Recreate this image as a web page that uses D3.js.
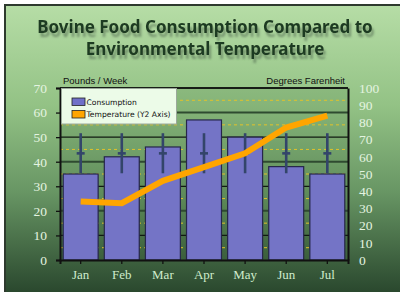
<!DOCTYPE html>
<html>
<head>
<meta charset="utf-8">
<script src="https://cdn.jsdelivr.net/npm/d3@7"></script>
<style>
  body { margin: 0; background: #fff; }
  svg { display: block; }
</style>
</head>
<body>
<div id="chart"></div>
<script>
// data
var months = ["Jan", "Feb", "Mar", "Apr", "May", "Jun", "Jul"];
var consumption = [35, 42, 46, 57, 50, 38, 35];
var temperature = [34, 33, 46, 54, 62, 77, 84];
var errLow = [35.3, 35.3, 35.3, 35.3, 35.3, 35.3, 35.3];
var errMid = [43.4, 43.4, 43.4, 43.4, 43.4, 43.4, 43.4];
var errHigh = [51.6, 51.6, 51.6, 51.6, 51.6, 51.6, 51.6];
var leftTicks = [0, 10, 20, 30, 40, 50, 60, 70];
var rightTicks = [0, 10, 20, 30, 40, 50, 60, 70, 80, 90, 100];
var minorTicks = [5, 15, 25, 35, 45, 55, 65];

var W = 400, H = 292;
var margin = {top: 88, right: 52, bottom: 32, left: 60},
    plotW = W - margin.left - margin.right,
    plotH = H - margin.top - margin.bottom;

var svg = d3.select("#chart").append("svg")
    .attr("width", W)
    .attr("height", H);

var defs = svg.append("defs");
var grad = defs.append("linearGradient")
    .attr("id", "bg")
    .attr("x1", 0).attr("y1", 0).attr("x2", 0).attr("y2", 1);
[[0, "#b6dda6"], [0.35, "#93c285"], [0.65, "#689664"], [1, "#2a482e"]].forEach(function(s) {
  grad.append("stop").attr("offset", s[0]).attr("stop-color", s[1]);
});
defs.append("filter").attr("id", "shadow")
    .attr("x", "-10%").attr("y", "-30%").attr("width", "120%").attr("height", "170%")
  .append("feDropShadow")
    .attr("dx", 2).attr("dy", 4)
    .attr("stdDeviation", 0.8)
    .attr("flood-color", "#465f46")
    .attr("flood-opacity", 0.55);

// background and frame
svg.append("rect")
    .attr("x", 5).attr("y", 5)
    .attr("width", W - 5).attr("height", H - 5)
    .attr("fill", "url(#bg)");
svg.append("path")
    .attr("d", "M5," + H + "V5H" + W)
    .attr("fill", "none")
    .attr("stroke", "#2e3a2e")
    .attr("stroke-width", 2);

// title with soft shadow
var titleLines = ["Bovine Food Consumption Compared to", "Environmental Temperature"];
var title = svg.append("g")
    .attr("font-family", "'Noto Sans', 'DejaVu Sans', sans-serif")
    .attr("font-weight", "bold")
    .attr("font-size", 17)
    .attr("text-anchor", "middle")
    .attr("filter", "url(#shadow)");
titleLines.forEach(function(t, i) {
  title.append("text")
      .attr("x", 205).attr("y", 33 + i * 22)
      .attr("fill", "#1f3a20")
      .text(t);
});

var g = svg.append("g")
    .attr("transform", "translate(" + margin.left + "," + margin.top + ")");

var x = d3.scaleBand()
    .domain(months)
    .range([0, plotW])
    .paddingInner(0.15)
    .paddingOuter(0.078);

var y = d3.scaleLinear().domain([0, 70]).range([plotH, 0]);
var y2 = d3.scaleLinear().domain([0, 100]).range([plotH, 0]);

// plot area tint
g.append("rect")
    .attr("width", plotW).attr("height", plotH)
    .attr("fill", "rgba(40,80,30,0.12)");

// minor dashed gridlines
g.append("g").selectAll("line")
    .data(minorTicks)
    .enter().append("line")
    .attr("x1", 0).attr("x2", plotW)
    .attr("y1", function(d) { return y(d); })
    .attr("y2", function(d) { return y(d); })
    .attr("stroke", "#e2c22a")
    .attr("stroke-width", 1)
    .attr("stroke-dasharray", "3,3");

// major gridlines
g.append("g").selectAll("line")
    .data(leftTicks.slice(1))
    .enter().append("line")
    .attr("x1", 0).attr("x2", plotW)
    .attr("y1", function(d) { return y(d); })
    .attr("y2", function(d) { return y(d); })
    .attr("stroke", function(d) { return d % 20 === 0 ? "#2f4a30" : "#111a11"; })
    .attr("stroke-width", function(d) { return d % 20 === 0 ? 2 : 1.3; });

// bars
g.append("g").selectAll("rect")
    .data(consumption)
    .enter().append("rect")
    .attr("x", function(d, i) { return x(months[i]); })
    .attr("y", function(d) { return y(d); })
    .attr("width", x.bandwidth())
    .attr("height", function(d) { return plotH - y(d); })
    .attr("fill", "#7474c6")
    .attr("stroke", "#26264a")
    .attr("stroke-width", 1.2);

// error bars
var eb = g.append("g").attr("stroke", "#33456a");
months.forEach(function(m, i) {
  var cx = x(m) + x.bandwidth() / 2;
  eb.append("line")
      .attr("x1", cx).attr("x2", cx)
      .attr("y1", y(errHigh[i])).attr("y2", y(errLow[i]))
      .attr("stroke-width", 2.6);
  eb.append("line")
      .attr("x1", cx - 4).attr("x2", cx + 4)
      .attr("y1", y(errMid[i])).attr("y2", y(errMid[i]))
      .attr("stroke-width", 2.6);
});

// temperature line
var line = d3.line()
    .x(function(d, i) { return x(months[i]) + x.bandwidth() / 2; })
    .y(function(d) { return y2(d); });
g.append("path")
    .datum(temperature)
    .attr("d", line)
    .attr("fill", "none")
    .attr("stroke", "#ffa500")
    .attr("stroke-width", 6);

// frame lines of the plot
g.append("line").attr("x1", 0).attr("x2", plotW).attr("y1", 0).attr("y2", 0)
    .attr("stroke", "#111").attr("stroke-width", 1.5);

// axes
var labelColor = "#e4f4e0";
var axisL = g.append("g")
    .call(d3.axisLeft(y).tickValues(leftTicks).tickSize(4).tickPadding(9));
var axisR = g.append("g")
    .attr("transform", "translate(" + plotW + ",0)")
    .call(d3.axisRight(y2).tickValues(rightTicks).tickSize(0).tickPadding(11));
var axisB = g.append("g")
    .attr("transform", "translate(0," + plotH + ")")
    .call(d3.axisBottom(x).tickSize(4).tickPadding(6));

[axisL, axisR, axisB].forEach(function(a) {
  a.select(".domain").attr("stroke", "#111").attr("stroke-width", 2);
  a.selectAll(".tick line").attr("stroke", "#111").attr("stroke-width", 1.3);
  a.selectAll("text")
      .attr("font-family", "'Liberation Serif', 'DejaVu Serif', serif")
      .attr("font-size", 13.5)
      .attr("fill", labelColor);
});
axisB.selectAll("text").attr("fill", "#cfeccc").attr("font-size", 13);

// axis titles
svg.append("text")
    .attr("x", 63).attr("y", 84)
    .attr("font-family", "'Liberation Sans', Arial, sans-serif")
    .attr("font-size", 9.5)
    .attr("fill", "#111")
    .text("Pounds / Week");
svg.append("text")
    .attr("x", 345).attr("y", 84)
    .attr("text-anchor", "end")
    .attr("font-family", "'Liberation Sans', Arial, sans-serif")
    .attr("font-size", 9.5)
    .attr("fill", "#111")
    .text("Degrees Farenheit");

// legend
var legendItems = ["Consumption", "Temperature (Y2 Axis)"];
var legendColors = ["#7070c8", "#ffa500"];
var legend = svg.append("g").attr("transform", "translate(61.5,88.5)");
legend.append("rect")
    .attr("width", 115).attr("height", 35.5)
    .attr("fill", "#ecfbe8")
    .attr("stroke", "#9aa89a")
    .attr("stroke-width", 1);
legendItems.forEach(function(t, i) {
  legend.append("rect")
      .attr("x", 10.5).attr("y", 9.5 + i * 12.5)
      .attr("width", 13).attr("height", 7.5)
      .attr("fill", legendColors[i])
      .attr("stroke", "#222")
      .attr("stroke-width", 0.8);
  legend.append("text")
      .attr("x", 25).attr("y", 16 + i * 12.5)
      .attr("font-family", "'DejaVu Sans', Verdana, sans-serif")
      .attr("font-size", 7.6)
      .attr("fill", "#111")
      .text(t);
});
</script>
</body>
</html>
